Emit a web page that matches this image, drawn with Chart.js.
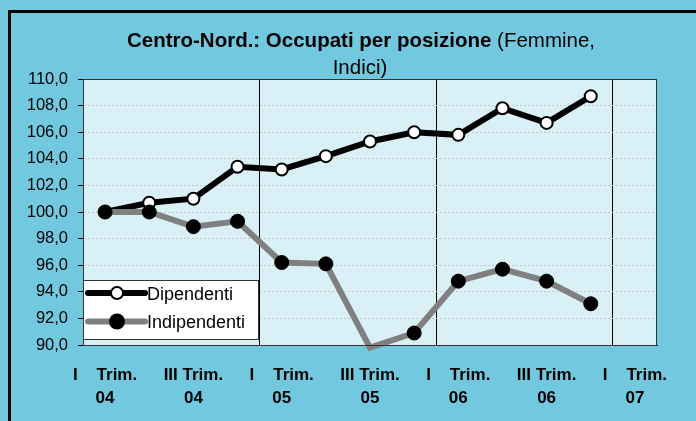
<!DOCTYPE html>
<html>
<head>
<meta charset="utf-8">
<script src="https://cdn.jsdelivr.net/npm/chart.js@4.4.1/dist/chart.umd.min.js"></script>
<style>
    body { margin: 0; background: #72c9df; }
    #wrap { position: relative; width: 696px; height: 421px; overflow: hidden; background: #72c9df; }
    #frame { position: absolute; left: 8px; top: 10px; width: 760px; height: 480px; border: 3px solid #000; }
    canvas { position: absolute; left: 0; top: 0; }
</style>
</head>
<body>
<div id="wrap">
    <div id="frame"></div>
    <canvas id="chart" width="696" height="421"></canvas>
</div>
<script>
const titleBold = "Centro-Nord.: Occupati per posizione ";
const titleNormal = "(Femmine,";
const titleLine2 = "Indici)";

const quarters = [
    ["I    Trim.", "04"], ["II Trim.", "04"], ["III Trim.", "04"], ["IV Trim.", "04"],
    ["I    Trim.", "05"], ["II Trim.", "05"], ["III Trim.", "05"], ["IV Trim.", "05"],
    ["I    Trim.", "06"], ["II Trim.", "06"], ["III Trim.", "06"], ["IV Trim.", "06"],
    ["I    Trim.", "07"]
];
const dipendenti = [100.0, 100.7, 101.0, 103.4, 103.2, 104.2, 105.3, 106.0, 105.8, 107.8, 106.7, 108.7];
const indipendenti = [100.0, 100.0, 98.9, 99.3, 96.2, 96.1, 89.8, 90.9, 94.8, 95.7, 94.8, 93.1];
const seriesNames = ["Dipendenti", "Indipendenti"];

const FONT = "'Liberation Sans', Arial, sans-serif";

// plot background, frame, title and the little legend box
const decor = {
    id: "decor",
    beforeDraw(chart) {
        const { ctx, chartArea: a } = chart;
        ctx.save();
        ctx.fillStyle = "#daf0f7";
        ctx.fillRect(a.left, a.top, a.right - a.left, a.bottom - a.top);

        // title (bold part + normal part)
        ctx.fillStyle = "#000";
        ctx.textBaseline = "alphabetic";
        ctx.font = "bold 20.5px " + FONT;
        const w1 = ctx.measureText(titleBold).width;
        ctx.font = "20.5px " + FONT;
        const w2 = ctx.measureText(titleNormal).width;
        let x = 361 - (w1 + w2) / 2;
        ctx.font = "bold 20.5px " + FONT;
        ctx.textAlign = "left";
        ctx.fillText(titleBold, x, 47);
        ctx.font = "20.5px " + FONT;
        ctx.fillText(titleNormal, x + w1, 47);
        ctx.textAlign = "center";
        ctx.fillText(titleLine2, 360, 74);
        ctx.restore();
    },
    afterDraw(chart) {
        const { ctx, chartArea: a } = chart;
        ctx.save();
        ctx.strokeStyle = "#333";
        ctx.lineWidth = 1;
        ctx.strokeRect(a.left + 0.5, a.top + 0.5, a.right - a.left - 1, a.bottom - a.top);

        // legend
        const bx = 83.5, by = 280.5, bw = 175, bh = 59;
        ctx.fillStyle = "#fff";
        ctx.fillRect(bx, by, bw, bh);
        ctx.strokeStyle = "#333";
        ctx.strokeRect(bx, by, bw, bh);
        const rows = [293, 321.5];
        chart.data.datasets.forEach((ds, i) => {
            const y = rows[i];
            ctx.strokeStyle = ds.borderColor;
            ctx.lineWidth = ds.borderWidth;
            ctx.lineCap = "round";
            ctx.beginPath();
            ctx.moveTo(88, y);
            ctx.lineTo(145, y);
            ctx.stroke();
            ctx.beginPath();
            ctx.arc(117, y, i === 0 ? 6 : 7, 0, Math.PI * 2);
            ctx.fillStyle = ds.pointBackgroundColor;
            ctx.fill();
            ctx.lineWidth = 2;
            ctx.strokeStyle = "#000";
            ctx.stroke();
            ctx.fillStyle = "#000";
            ctx.font = "18px " + FONT;
            ctx.textAlign = "left";
            ctx.textBaseline = "middle";
            ctx.fillText(ds.label, 147, y + 2);
        });
        ctx.restore();
    }
};

const idxRadius = indipendenti.map(v => v < 90 ? 0 : 7);

new Chart(document.getElementById("chart").getContext("2d"), {
    type: "line",
    data: {
        labels: quarters,
        datasets: [
            {
                label: seriesNames[0],
                data: dipendenti,
                borderColor: "#000",
                borderWidth: 6,
                pointRadius: 6,
                pointBackgroundColor: "#fff",
                pointBorderColor: "#000",
                pointBorderWidth: 2,
                tension: 0,
                order: 1
            },
            {
                label: seriesNames[1],
                data: indipendenti,
                borderColor: "#808080",
                borderWidth: 6,
                pointRadius: idxRadius,
                pointBackgroundColor: "#000",
                pointBorderColor: "#000",
                pointBorderWidth: 1,
                tension: 0,
                clip: false,
                order: 0
            }
        ]
    },
    options: {
        responsive: false,
        devicePixelRatio: 1,
        animation: false,
        layout: { padding: { top: 79, right: 39, left: 0, bottom: 0 } },
        plugins: {
            legend: { display: false },
            title: { display: false },
            tooltip: { enabled: false }
        },
        scales: {
            x: {
                offset: true,
                afterFit: s => { s.height = 76; },
                grid: {
                    offset: true,
                    drawTicks: false,
                    color: c => (c.index === 4 || c.index === 8 || c.index === 12) ? "#000" : "rgba(0,0,0,0)",
                    lineWidth: 1
                },
                border: { display: true, color: "#000", width: 1 },
                ticks: {
                    autoSkip: false,
                    maxRotation: 0,
                    minRotation: 0,
                    padding: 18,
                    color: "#000",
                    font: { family: FONT, size: 17, weight: "bold", lineHeight: 1.4 },
                    callback: function (val, i) {
                        return i % 2 === 0 ? this.getLabelForValue(val) : "";
                    }
                }
            },
            y: {
                min: 90,
                max: 110,
                afterFit: s => { s.width = 83; },
                grid: {
                    color: "#c8c8c8",
                    tickColor: "#000",
                    tickLength: 5,
                    lineWidth: 1
                },
                border: { display: true, color: "#000", width: 1, dash: [2, 2] },
                ticks: {
                    stepSize: 2,
                    padding: 10,
                    color: "#000",
                    font: { family: FONT, size: 16.5 },
                    callback: v => v.toFixed(1).replace(".", ",")
                }
            }
        }
    },
    plugins: [decor]
});
</script>
</body>
</html>
